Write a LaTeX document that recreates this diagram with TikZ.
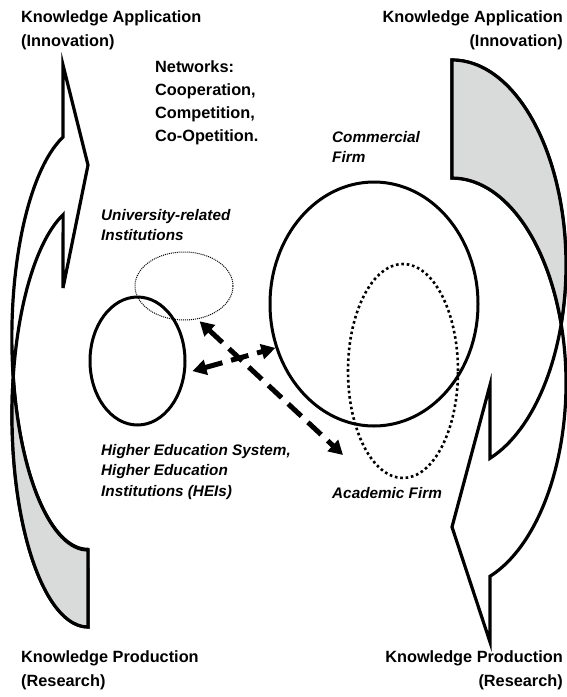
\documentclass[tikz,border=0pt]{standalone}
\usepackage{fontspec}
\setmainfont{Liberation Sans}
\usetikzlibrary{shapes.geometric,arrows.meta}
\definecolor{shade}{RGB}{217,219,219}
\begin{document}
\begin{tikzpicture}[x=1pt,y=1pt,
  band/.style={draw=black,line width=3.2pt,line join=miter,fill=white},
  bandshade/.style={draw=black,line width=3.2pt,line join=miter,fill=shade},
  ttl/.style={font=\fontsize{16.3}{23.8}\selectfont\bfseries,inner sep=0pt},
  lbl/.style={font=\fontsize{15.3}{20.5}\selectfont\bfseries\itshape,inner sep=0pt,align=left},
  solidell/.style={ellipse,draw,line width=3pt,inner sep=0pt},
  thindots/.style={ellipse,draw,line width=1pt,dash pattern=on 1pt off 1pt,inner sep=0pt},
  bigdots/.style={ellipse,draw,line width=2.6pt,dash pattern=on 2.6pt off 2.8pt,inner sep=0pt},
  dasharrow/.style={line width=5pt,dash pattern=on 18pt off 9pt,
    {Triangle[length=14pt,width=15pt]}-{Triangle[length=14pt,width=15pt]}}
]
\useasboundingbox (0,0) rectangle (567,-697);

% left curved arrow (pointing up)
\path[band] (63,-65) -- (63,-137)
  arc[start angle=109.1,end angle=270,x radius=76pt,y radius=212pt] -- (88,-627)
  arc[start angle=270,end angle=109.1,x radius=76pt,y radius=212pt]
  -- (63,-288) -- (88,-165) -- cycle;
\path[bandshade] (13.26,-376.5)
  arc[start angle=190.46,end angle=270,x radius=76pt,y radius=212pt] -- (88,-627)
  arc[start angle=270,end angle=169.54,x radius=76pt,y radius=212pt] -- cycle;

% right curved arrow (pointing down)
\path[band] (490,-642) -- (490,-576.3)
  arc[start angle=-70.53,end angle=90,x radius=114pt,y radius=205pt] -- (452,-60)
  arc[start angle=90,end angle=-70.53,x radius=114pt,y radius=205pt]
  -- (490,-385) -- (452,-527) -- cycle;
\path[bandshade] (452,-60)
  arc[start angle=90,end angle=-16.73,x radius=114pt,y radius=205pt]
  arc[start angle=16.73,end angle=90,x radius=114pt,y radius=205pt] -- cycle;

% ellipses
\node[thindots,minimum width=98pt,minimum height=68pt] (uni) at (184,-286) {};
\node[solidell,minimum width=95pt,minimum height=128pt] (hei) at (137.5,-361) {};
\node[solidell,minimum width=208pt,minimum height=244pt] (firm) at (374,-304) {};
\node[bigdots,minimum width=110pt,minimum height=214pt] (acad) at (403,-371) {};
\coordinate (acadend) at (343,-455);

% dashed arrows
\draw[dasharrow,shorten <=7pt] (hei.-14.4) -- (firm.204.9);
\draw[dasharrow,shorten <=3pt] (uni.-68.7) -- (acadend);

% texts (base anchor = baseline of the last line)
\node[ttl,anchor=base west,align=left] (tl) at (21,-46.5) {Knowledge Application\\(Innovation)};
\node[ttl,anchor=base east,align=right] (tr) at (563,-46.5) {Knowledge Application\\(Innovation)};
\node[ttl,anchor=base west,align=left] (bl) at (21,-686) {Knowledge Production\\(Research)};
\node[ttl,anchor=base east,align=right] (br) at (563,-686) {Knowledge Production\\(Research)};
\node[ttl,anchor=base west,align=left,font=\fontsize{16.3}{23.3}\selectfont\bfseries] (net) at (155,-141.9) {Networks:\\Cooperation,\\Competition,\\Co-Opetition.};
\node[lbl,anchor=base west] (comm) at (332,-162.5) {Commercial\\Firm};
\node[lbl,anchor=base west] (unil) at (101,-240.5) {University-related\\Institutions};
\node[lbl,anchor=base west] (heil) at (101,-496) {Higher Education System,\\Higher Education\\Institutions (HEIs)};
\node[lbl,anchor=base west] (acadl) at (332,-498) {Academic Firm};
\end{tikzpicture}
\end{document}
